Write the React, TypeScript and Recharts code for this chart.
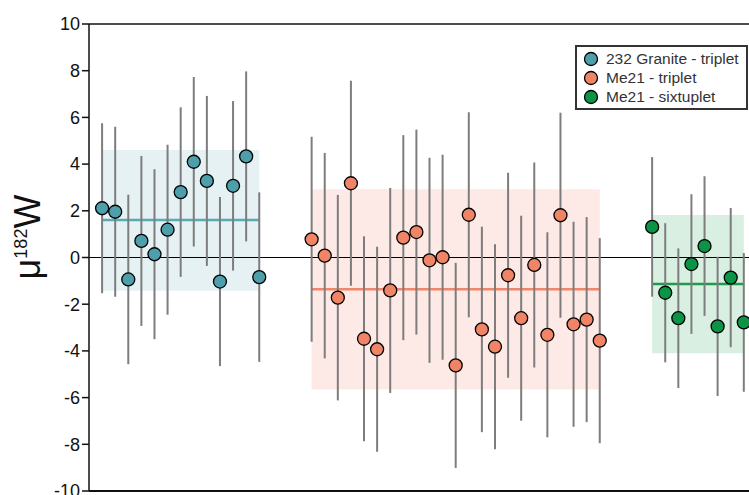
import {
  ScatterChart,
  Scatter,
  XAxis,
  YAxis,
  ErrorBar,
  ReferenceArea,
  ReferenceLine,
} from 'recharts';

// μ182W values and 2σ errors, per sample
const blueValues = [2.11, 1.96, -0.94, 0.71, 0.14, 1.19, 2.8, 4.1, 3.28, -1.03, 3.07, 4.33, -0.84];
const blueErrors = [3.64, 3.64, 3.63, 3.64, 3.64, 3.64, 3.63, 3.63, 3.64, 3.62, 3.63, 3.64, 3.63];

const orangeValues = [
  0.78, 0.08, -1.72, 3.18, -3.48, -3.93, -1.41, 0.85, 1.09, -0.12, 0.01, -4.62,
  1.83, -3.08, -3.82, -0.76, -2.6, -0.32, -3.31, 1.81, -2.86, -2.66, -3.56,
];
const orangeErrors = [
  4.39, 4.4, 4.4, 4.39, 4.39, 4.39, 4.39, 4.39, 4.39, 4.39, 4.39, 4.39,
  4.39, 4.4, 4.39, 4.39, 4.39, 4.39, 4.39, 4.39, 4.39, 4.39, 4.39,
];

const greenValues = [1.31, -1.51, -2.6, -0.28, 0.49, -2.95, -0.86, -2.78];
const greenErrors = [2.99, 2.98, 2.99, 2.99, 2.99, 2.98, 2.98, 2.97];

// group means and their spread bands
const groupMeans = [1.61, -1.36, -1.13];
const groupBandLow = [-1.42, -5.65, -4.1];
const groupBandHigh = [4.6, 2.92, 1.82];

const groupNames = ['232 Granite - triplet', 'Me21 - triplet', 'Me21 - sixtuplet'];
const groupStarts = [0, 16, 42];

const yTicks = [-10, -8, -6, -4, -2, 0, 2, 4, 6, 8, 10];

const POINT_COLORS = ['#4e9fac', '#ef8466', '#0c9446'];
const MEAN_COLORS = ['#5aaab5', '#f0866a', '#1d9a4c'];
const BAND_COLORS = ['#e5f1f3', '#fde9e6', '#d9efe1'];

const FONT = 'Liberation Sans, Arial, sans-serif';

const toPoints = (values: number[], errors: number[], start: number) =>
  values.map((v, i) => ({ x: start + i, y: v, err: errors[i] }));

const groups = [
  toPoints(blueValues, blueErrors, groupStarts[0]),
  toPoints(orangeValues, orangeErrors, groupStarts[1]),
  toPoints(greenValues, greenErrors, groupStarts[2]),
];

function YLabel() {
  const cx = 40;
  const cy = 237;
  return (
    <text
      x={cx}
      y={cy}
      transform={`rotate(-90, ${cx}, ${cy})`}
      textAnchor="middle"
      fontSize={36}
      fill="#111"
      fontFamily={FONT}
    >
      μ<tspan dy={-13} fontSize={18}>182</tspan>
      <tspan dy={13}>W</tspan>
    </text>
  );
}

// legend box, sits over the plot without taking layout space
function GroupLegend() {
  return (
    <div
      style={{
        position: 'absolute',
        left: 575,
        top: 45,
        width: 163,
        border: '2px solid #333',
        background: '#fff',
        padding: '2px 0 2px 6px',
        fontFamily: FONT,
        fontSize: 15.5,
        color: '#333',
        lineHeight: '19px',
      }}
    >
      {groupNames.map((name, i) => (
        <div key={name} style={{ display: 'flex', alignItems: 'center', height: 19 }}>
          <svg width={16} height={16} style={{ marginRight: 7 }}>
            <circle cx={8} cy={8} r={6.5} fill={POINT_COLORS[i]} stroke="#000" strokeWidth={1.3} />
          </svg>
          <span>{name}</span>
        </div>
      ))}
    </div>
  );
}

export default function App() {
  return (
    <div
      style={{
        position: 'absolute',
        left: 0,
        top: 0,
        width: 749,
        height: 495,
        overflow: 'hidden',
        background: '#fff',
      }}
    >
      <ScatterChart width={800} height={495} margin={{ top: 24, right: 30, left: 29, bottom: 4 }}>
        <XAxis type="number" dataKey="x" domain={[-1, 51]} hide />
        <YAxis
          type="number"
          dataKey="y"
          domain={[-10, 10]}
          ticks={yTicks}
          interval={0}
          width={60}
          tickSize={7}
          tickMargin={2}
          tick={{ fontSize: 18, fill: '#111', fontFamily: FONT }}
          tickLine={{ stroke: '#111', strokeWidth: 1.5 }}
          axisLine={{ stroke: '#111', strokeWidth: 1.5 }}
          label={{ content: <YLabel /> }}
        />
        {groups.map((pts, g) => (
          <ReferenceArea
            key={`band-${g}`}
            x1={pts[0].x}
            x2={pts[pts.length - 1].x}
            y1={groupBandLow[g]}
            y2={groupBandHigh[g]}
            fill={BAND_COLORS[g]}
            fillOpacity={1}
            stroke="none"
          />
        ))}
        <ReferenceLine y={10} stroke="#111" strokeWidth={1.5} />
        <ReferenceLine y={-10} stroke="#111" strokeWidth={2} />
        <ReferenceLine y={0} stroke="#000" strokeWidth={1.2} />
        {groups.map((pts, g) => (
          <ReferenceLine
            key={`mean-${g}`}
            segment={[
              { x: pts[0].x, y: groupMeans[g] },
              { x: pts[pts.length - 1].x, y: groupMeans[g] },
            ]}
            stroke={MEAN_COLORS[g]}
            strokeWidth={2.5}
          />
        ))}
        {groups.map((pts, g) => (
          <Scatter
            key={`pts-${g}`}
            name={groupNames[g]}
            data={pts}
            isAnimationActive={false}
            shape={(p: any) => (
              <circle cx={p.cx} cy={p.cy} r={6.5} fill={POINT_COLORS[g]} stroke="#000" strokeWidth={1.3} />
            )}
          >
            <ErrorBar dataKey="err" direction="y" width={0} stroke="#7d7d7d" strokeWidth={2} />
          </Scatter>
        ))}
      </ScatterChart>
      <GroupLegend />
    </div>
  );
}
